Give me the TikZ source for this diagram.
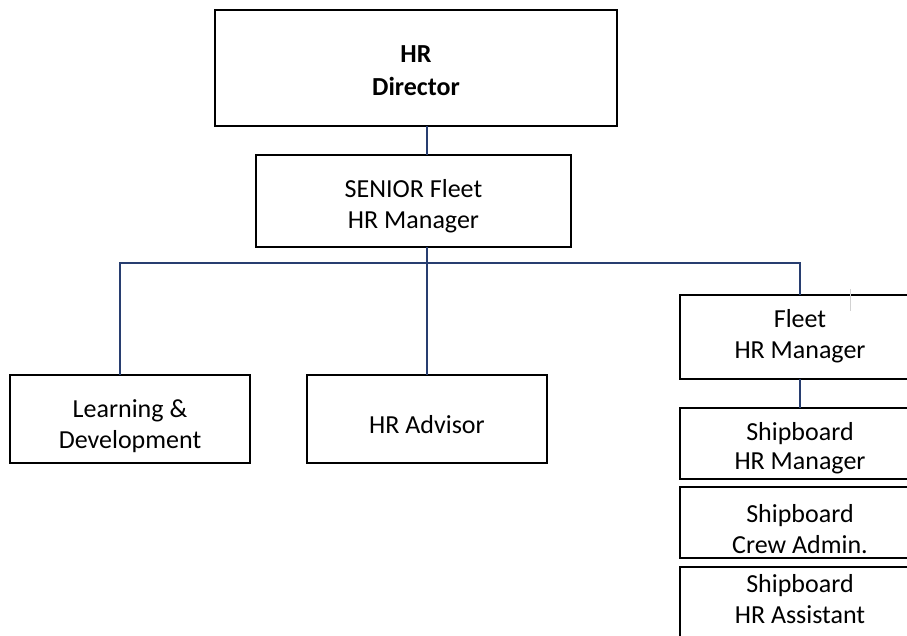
\documentclass[tikz,border=0pt]{standalone}
\usepackage{fontspec}
\setmainfont{Carlito}
\usetikzlibrary{positioning}

\definecolor{linkblue}{RGB}{40,62,112}

\begin{document}
\begin{tikzpicture}[x=1pt, y=1pt, node distance=8pt,
    box/.style={draw, line width=2.4pt, inner sep=0pt, outer sep=0pt,
                align=center, font=\fontsize{26}{31}\selectfont,
                text depth=0pt},
    link/.style={draw=linkblue, line width=1.1pt}]

  \clip (0,0) rectangle (907,-635);

  % top of the chart
  \node[box, minimum width=402pt, minimum height=116pt, text height=54pt,
        font=\fontsize{26}{33}\selectfont\bfseries] (dir) at (416,-68)
       {HR\\Director};
  \node[box, minimum width=315pt, minimum height=92pt, text height=54pt]
       (senior) at (413.5,-201) {SENIOR Fleet\\HR Manager};

  % second row
  \node[box, minimum width=240pt, minimum height=88pt, text height=58pt]
       (ld) at (130,-419) {Learning \&\\Development};
  \node[box, minimum width=240pt, minimum height=88pt, text height=28pt]
       (adv) at (427,-419) {HR Advisor};

  % right column
  \node[box, minimum width=240pt, minimum height=84pt, text height=42pt]
       (fleet) at (800,-337) {Fleet\\HR Manager};
  \node[box, minimum width=240pt, minimum height=71pt, text height=51pt,
        font=\fontsize{26}{29}\selectfont] (shm) [below=29pt of fleet]
       {Shipboard\\HR Manager};
  \node[box, minimum width=240pt, minimum height=71pt, text height=61pt]
       (sca) [below=of shm] {Shipboard\\Crew Admin.};
  \node[box, minimum width=240pt, minimum height=73pt, text height=39pt]
       (sha) [below=9pt of sca] {Shipboard\\HR Assistant};

  \coordinate (busL) at (120,-263);

  \draw[link] (dir.south -| adv) -- (senior.north -| adv);
  \draw[link] (senior.south -| adv) -- (adv.north);
  \draw[link] (ld.north -| busL) -- (busL) -- (busL -| fleet.north) -- (fleet.north);
  \draw[link] (fleet.south) -- (shm.north);

  \draw[gray!35, line width=0.8pt] (850,-289) -- (850,-311);

\end{tikzpicture}
\end{document}
